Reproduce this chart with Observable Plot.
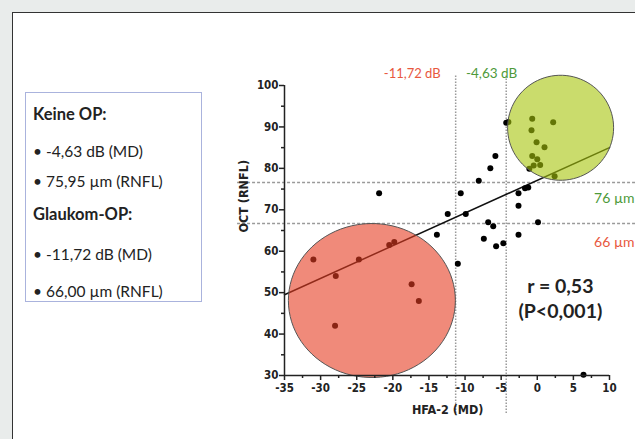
<!DOCTYPE html>
<html><head><meta charset="utf-8">
<script src="https://cdn.jsdelivr.net/npm/d3@7"></script>
<script src="https://cdn.jsdelivr.net/npm/@observablehq/plot@0.6"></script>
<style>
html,body{margin:0;padding:0;background:#e9eceb;}
#page{position:relative;width:635px;height:439px;overflow:hidden;background:#e9eceb;}
#panel{position:absolute;left:12px;top:12px;width:660px;height:460px;background:#fff;border-left:1.5px solid #333;border-top:1.5px solid #333;}
#legend{position:absolute;left:25px;top:92px;width:177px;height:210px;border:1.5px solid #aab3dd;box-sizing:border-box;font-family:Lato,"Open Sans",sans-serif;color:#222;}
#legend div{position:absolute;left:7px;height:20px;line-height:20px;white-space:nowrap;}
#legend .h{font-weight:bold;font-size:16.5px;}
#legend .b{font-size:15.5px;}
#chart{position:absolute;left:0;top:0;}
</style></head>
<body><div id="page"><div id="panel"></div><div id="legend"></div><div id="chart"></div></div>
<script>
// ---- data ----
const md   = [-31,-27.9,-24.7,-28,-17.4,-16.4,-20.5,-19.8,
              -21.9,-13.9,-11,-12.4,-9.9,-10.6,-8.1,-5.8,-6.5,-4.3,-4.0,-2.6,-1.7,-1.25,-2.6,0.1,-2.6,-7.4,-5.7,-4.7,-6.8,-6.1,6.4,
              -0.7,2.2,-0.8,-0.1,1,-0.7,0,0.4,-0.5,-1.1,2.4];
const rnfl = [58,54,58,42,52,48,61.5,62.2,
              74,64,57,69,69,74,77,83,80,91,91.2,74,75.2,75.4,71,67,64,63,61.2,61.9,67,66,30.2,
              92,91.1,89.2,86.3,85.1,83,82.2,80.8,80.7,79.9,78.1];
const regMD = [-35, 10];
const regRNFL = [49.5, 85];
const mdCutPos = [-11.3, -4.3];          // dotted vertical lines
const mdCutLabels = ["-11,72 dB", "-4,63 dB"];
const rnflCutPos = [66.7, 76.6];         // dashed horizontal lines
const rnflCutLabels = ["66 µm", "76 µm"];
const groupNames = ["Glaukom-OP", "Keine OP"];
const groupMD = [-22.9, 3.23];
const groupRNFL = [48.1, 89.8];
const xTicks = [-35,-30,-25,-20,-15,-10,-5,0,5,10];
const xMinor = [-32.5,-27.5,-22.5,-17.5,-12.5,-7.5,-2.5,2.5,7.5];
const yTicks = [30,40,50,60,70,80,90,100];
const yMinor = [35,45,55,65,75,85,95];
const legendLines = [
  ["h","Keine OP:"],["b","• -4,63 dB (MD)"],["b","• 75,95 µm (RNFL)"],
  ["h","Glaukom-OP:"],["b","• -11,72 dB (MD)"],["b","• 66,00 µm (RNFL)"]
];
const statLines = ["r = 0,53", "(P<0,001)"];

// ---- legend box ----
const legendTops = [11,48,78,111,151,188];
const lg = document.getElementById("legend");
legendLines.forEach(([c,t],i)=>{const d=document.createElement("div");d.className=c;d.textContent=t;d.style.top=legendTops[i]+"px";lg.appendChild(d);});

// ---- chart ----
const points = md.map((x,i)=>({md:x, rnfl:rnfl[i]}));
const reg = regMD.map((x,i)=>({md:x, rnfl:regRNFL[i]}));
const groups = groupNames.map((g,i)=>({g, md:groupMD[i], rnfl:groupRNFL[i]}));
const vcut = mdCutPos.map((x,i)=>({md:x, label:mdCutLabels[i]}));
const hcut = rnflCutPos.map((y,i)=>({rnfl:y, label:rnflCutLabels[i]}));

function ellipse(rx, ry){
  return {draw(ctx){const n=90;ctx.moveTo(rx,0);for(let k=1;k<n;k++){const a=2*Math.PI*k/n;ctx.lineTo(rx*Math.cos(a),ry*Math.sin(a));}ctx.closePath();}};
}
const tickFont = '"Liberation Sans Narrow","Arial Narrow","DejaVu Sans Condensed",sans-serif';
const txtFont = 'Lato,"Open Sans",sans-serif';
const red = "#e8583e", green = "#4e9a3a";

const chart = Plot.plot({
  width: 635, height: 439,
  marginLeft: 284, marginRight: 26, marginTop: 85, marginBottom: 64,
  x: {domain: [-35, 10], label: null},
  y: {domain: [30, 100], label: null},
  style: {background: "transparent", overflow: "visible"},
  marks: [
    Plot.ruleX(vcut, {x: "md", y1: 20.8, y2: 102.5, stroke: "#9a9a9a", strokeWidth: 1.5, strokeDasharray: "1.5,1.5"}),
    Plot.ruleY(hcut, {y: "rnfl", x1: -41.5, x2: 13.8, stroke: "#9a9a9a", strokeWidth: 1.5, strokeDasharray: "3,2"}),
    Plot.line(reg, {x: "md", y: "rnfl", stroke: "#111", strokeWidth: 1.5}),
    Plot.dot(points, {x: "md", y: "rnfl", r: 3, fill: "#000", stroke: "none"}),
    Plot.dot(groups.filter(d=>d.g==="Glaukom-OP"), {x: "md", y: "rnfl", r: 1, symbol: ellipse(83.5, 77), fill: "#e63c21", fillOpacity: 0.6, stroke: "#555", strokeWidth: 1}),
    Plot.dot(groups.filter(d=>d.g==="Keine OP"), {x: "md", y: "rnfl", r: 1, symbol: ellipse(53, 52.5), fill: "#a7c50a", fillOpacity: 0.6, stroke: "#555", strokeWidth: 1}),
    Plot.ruleX([-35], {y1: 30, y2: 100, stroke: "#222", strokeWidth: 1.5}),
    Plot.ruleY([30], {x1: -35, x2: 10, stroke: "#222", strokeWidth: 1.5}),
    Plot.axisX({ticks: xTicks, tickSize: 5, tickPadding: 3, tickFormat: d => String(d), label: null, stroke: "#222", strokeWidth: 1.5, fontSize: 11.5, fontWeight: "bold", fontFamily: tickFont, fill: "#222"}),
    Plot.axisX({ticks: xMinor, tickSize: 3, tickFormat: () => "", label: null, stroke: "#222", strokeWidth: 1.5}),
    Plot.axisY({ticks: yTicks, tickSize: 5, tickPadding: 1, tickFormat: d => String(d), label: null, stroke: "#222", strokeWidth: 1.5, fontSize: 11.5, fontWeight: "bold", fontFamily: tickFont, fill: "#222"}),
    Plot.axisY({ticks: yMinor, tickSize: 3, tickFormat: () => "", label: null, stroke: "#222", strokeWidth: 1.5}),
    Plot.text(vcut.slice(0,1), {x: "md", text: "label", frameAnchor: "top", dy: -17, dx: -15, textAnchor: "end", fill: red, fontSize: 13, fontFamily: txtFont}),
    Plot.text(vcut.slice(1), {x: "md", text: "label", frameAnchor: "top", dy: -17, dx: 11, textAnchor: "end", fill: green, fontSize: 13.5, fontFamily: txtFont}),
    Plot.text(hcut.slice(0,1), {y: "rnfl", text: "label", frameAnchor: "right", dx: 25, dy: 19, textAnchor: "end", fill: red, fontSize: 14, fontFamily: txtFont}),
    Plot.text(hcut.slice(1), {y: "rnfl", text: "label", frameAnchor: "right", dx: 25, dy: 16, textAnchor: "end", fill: green, fontSize: 14, fontFamily: txtFont}),
    Plot.text([statLines.join("\n")], {x: 3.2, y: 52, text: d => d, lineAnchor: "middle", lineHeight: 1.3, dy: 13, fontSize: 19.5, fontWeight: "bold", fontFamily: txtFont, fill: "#222"}),
    Plot.text(["OCT (RNFL)"], {frameAnchor: "left", y: 64.5, text: d => d, rotate: -90, dx: -41, fontSize: 12.5, fontWeight: "bold", fontFamily: tickFont, fill: "#222"}),
    Plot.text(["HFA-2 (MD)"], {frameAnchor: "bottom", x: -12.4, text: d => d, dy: 38, fontSize: 12.5, fontWeight: "bold", fontFamily: tickFont, fill: "#222"})
  ]
});
document.getElementById("chart").appendChild(chart);
</script>
</body></html>
